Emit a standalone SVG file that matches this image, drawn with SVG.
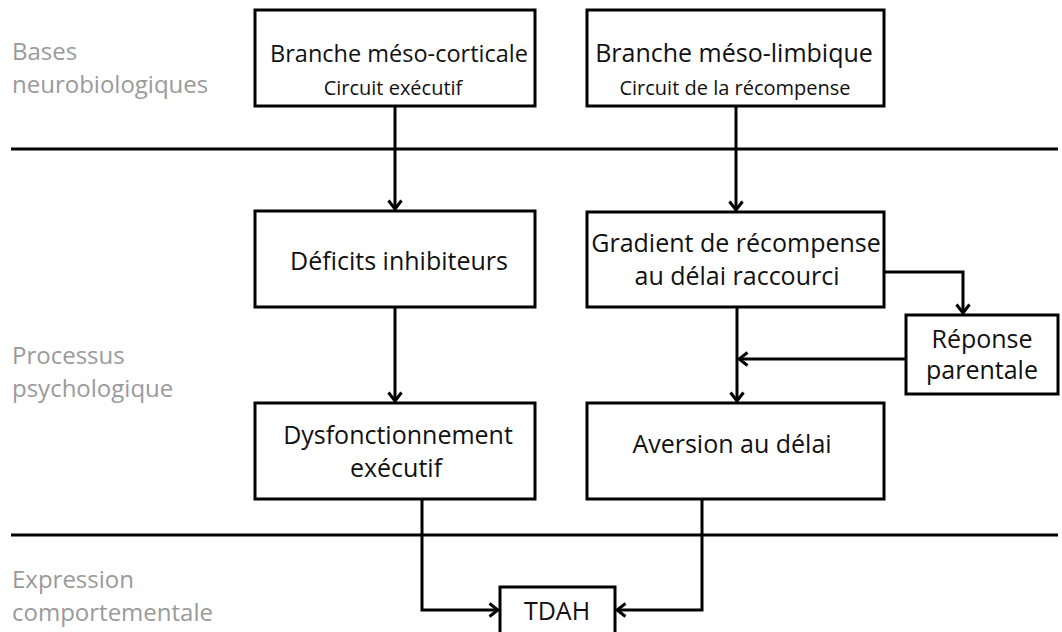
<svg xmlns="http://www.w3.org/2000/svg" width="1062" height="632" viewBox="0 0 1062 632">
  <style>
    .box { fill: #ffffff; stroke: #000000; stroke-width: 3; }
    .sep { stroke: #000000; stroke-width: 3; fill: none; }
    .link { stroke: #000000; stroke-width: 3; fill: none; marker-end: url(#chev); }
    .t { font-family: "Open Sans", "Noto Sans", sans-serif; font-size: 25px; fill: #111111; text-anchor: middle; }
    .sub { font-family: "Open Sans", "Noto Sans", sans-serif; font-size: 20px; fill: #111111; text-anchor: middle; }
    .lane { font-family: "Open Sans", "Noto Sans", sans-serif; font-size: 24px; fill: #9a9a9a; }
  </style>
  <defs>
    <marker id="chev" viewBox="0 0 12 16" refX="10" refY="8" markerWidth="12" markerHeight="16" markerUnits="userSpaceOnUse" orient="auto">
      <path d="M1.5,1.5 L10,8 L1.5,14.5" fill="none" stroke="#000000" stroke-width="3"/>
    </marker>
  </defs>
  <rect width="1062" height="632" fill="#ffffff"/>

  <!-- lane titles -->
  <g id="lanes">
    <text class="lane" x="12" y="60">Bases</text>
    <text class="lane" x="12" y="93">neurobiologiques</text>
    <text class="lane" x="12" y="364">Processus</text>
    <text class="lane" x="12" y="397">psychologique</text>
    <text class="lane" x="12" y="588">Expression</text>
    <text class="lane" x="12" y="621">comportementale</text>
  </g>

  <!-- lane separators -->
  <g id="separators">
    <line class="sep" x1="11" y1="149" x2="1058" y2="149"/>
    <line class="sep" x1="11" y1="535" x2="1058" y2="535"/>
  </g>

  <!-- connectors -->
  <g id="connectors">
    <line class="link" x1="395" y1="106" x2="395" y2="209"/>
    <line class="link" x1="736" y1="106" x2="736" y2="210"/>
    <line class="link" x1="395" y1="307" x2="395" y2="401"/>
    <line class="link" x1="737" y1="307" x2="737" y2="401"/>
    <polyline class="link" points="885,272 963,272 963,313"/>
    <line class="link" x1="906" y1="359" x2="739" y2="359"/>
    <polyline class="link" points="422,499 422,610 498,610"/>
    <polyline class="link" points="702,499 702,610 617,610"/>
  </g>

  <g id="meso-cortical">
    <rect class="box" x="255" y="10" width="280" height="96"/>
    <text class="t" x="399" y="62" style="font-size:23.5px">Branche méso-corticale</text>
    <text class="sub" x="393" y="95">Circuit exécutif</text>
  </g>

  <g id="meso-limbic">
    <rect class="box" x="587" y="10" width="297" height="96"/>
    <text class="t" x="734" y="62">Branche méso-limbique</text>
    <text class="sub" x="735" y="95">Circuit de la récompense</text>
  </g>

  <g id="inhibitory-deficits">
    <rect class="box" x="255" y="211" width="280" height="96"/>
    <text class="t" x="399" y="270">Déficits inhibiteurs</text>
  </g>

  <g id="reward-gradient">
    <rect class="box" x="587" y="212" width="297" height="95"/>
    <text class="t" x="736" y="252">Gradient de récompense</text>
    <text class="t" x="737" y="285">au délai raccourci</text>
  </g>

  <g id="parental-response">
    <rect class="box" x="906" y="315" width="152" height="79"/>
    <text class="t" x="982" y="348">Réponse</text>
    <text class="t" x="982" y="379">parentale</text>
  </g>

  <g id="executive-dysfunction">
    <rect class="box" x="255" y="403" width="280" height="96"/>
    <text class="t" x="398" y="444">Dysfonctionnement</text>
    <text class="t" x="396" y="477">exécutif</text>
  </g>

  <g id="delay-aversion">
    <rect class="box" x="587" y="403" width="297" height="96"/>
    <text class="t" x="732" y="453">Aversion au délai</text>
  </g>

  <g id="adhd">
    <rect class="box" x="500" y="587" width="115" height="50"/>
    <text class="t" x="557" y="620">TDAH</text>
  </g>
</svg>
